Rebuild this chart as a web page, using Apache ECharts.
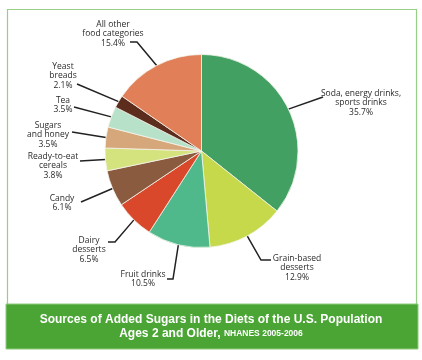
<!DOCTYPE html>
<html>
<head>
<meta charset="utf-8">
<script src="https://cdn.jsdelivr.net/npm/echarts@6/dist/echarts.min.js"></script>
<style>
html,body{margin:0;padding:0;background:#fff;}
#chart{width:422px;height:360px;}
</style>
</head>
<body>
<div id="chart"></div>
<script>
// ---- data ----
const categories = [
  'Soda, energy drinks,\nsports drinks',
  'Grain-based\ndesserts',
  'Fruit drinks',
  'Dairy\ndesserts',
  'Candy',
  'Ready-to-eat\ncereals',
  'Sugars\nand honey',
  'Tea',
  'Yeast\nbreads',
  'All other\nfood categories'
];
const shares = [35.7, 12.9, 10.5, 6.5, 6.1, 3.8, 3.5, 3.5, 2.1, 15.4];
const sliceColors = ['#41a062', '#c5d94b', '#4fb98b', '#d9482a', '#8a5b3f', '#d4e37d', '#d6a77a', '#b8e1ca', '#5c2c1c', '#e17f58'];
const titleLine1 = 'Sources of Added Sugars in the Diets of the U.S. Population';
const titleLine2a = 'Ages 2 and Older, ';
const titleLine2b = 'NHANES 2005-2006';

// ---- label placement (layout only) ----
const labelPlacement = [
  {x: 361, y: 103, pts: [[323, 97]]},
  {x: 297, y: 268, pts: [[261, 260], [271, 260]]},
  {x: 143, y: 279, pts: [[173, 279], [167, 279]]},
  {x: 89,  y: 250, pts: [[115, 242], [108, 242]]},
  {x: 62,  y: 203, pts: [[81, 202]]},
  {x: 53,  y: 166, pts: [[80, 161]]},
  {x: 48,  y: 135, pts: [[72, 132]]},
  {x: 63,  y: 105, pts: [[74, 107]]},
  {x: 63,  y: 76,  pts: [[77, 84]]},
  {x: 113, y: 34,  pts: [[137, 42], [130, 42]]}
];

const chart = echarts.init(document.getElementById('chart'), null, {renderer: 'canvas'});
const data = categories.map((c, i) => ({
  name: c,
  value: shares[i],
  itemStyle: {color: sliceColors[i]}
}));

chart.setOption({
  animation: false,
  backgroundColor: '#ffffff',
  graphic: [
    {type: 'rect', shape: {x: 7.5, y: 9.5, width: 409, height: 300}, style: {fill: '#fff', stroke: '#98cf86', lineWidth: 1.2}, z: -10},
    {type: 'rect', shape: {x: 6, y: 304, width: 412, height: 45}, style: {fill: '#4aa534', stroke: '#8fcb7c', lineWidth: 1}, z: -5}
  ],
  title: {
    text: '{a|' + titleLine1 + '}\n{a|' + titleLine2a + '}{b|' + titleLine2b + '}',
    left: 'center',
    top: 308,
    textStyle: {
      rich: {
        a: {fontFamily: 'Liberation Sans', fontWeight: 'bold', fontSize: 12, color: '#fff', lineHeight: 14},
        b: {fontFamily: 'Liberation Sans', fontWeight: 'bold', fontSize: 8.5, color: '#fff', lineHeight: 14}
      }
    }
  },
  series: [{
    type: 'pie',
    center: [201.5, 151],
    radius: [0, 96.5],
    startAngle: 90,
    clockwise: true,
    data: data,
    itemStyle: {borderColor: '#f4f4ea', borderWidth: 0.8},
    label: {
      show: true,
      position: 'outside',
      formatter: p => p.name + '\n' + p.value.toFixed(1) + '%',
      fontFamily: 'Open Sans',
      fontSize: 8.5,
      lineHeight: 9.5,
      color: '#2a2a2a',
      align: 'center'
    },
    labelLine: {show: true, length: 5, length2: 5, lineStyle: {color: '#222', width: 1.5}},
    labelLayout: function (params) {
      const lp = labelPlacement[params.dataIndex];
      const start = params.labelLinePoints ? params.labelLinePoints[0] : null;
      const out = {x: lp.x, y: lp.y, align: 'center', verticalAlign: 'middle'};
      if (start) out.labelLinePoints = [start].concat(lp.pts);
      return out;
    },
    emphasis: {disabled: true}
  }]
});
</script>
</body>
</html>
